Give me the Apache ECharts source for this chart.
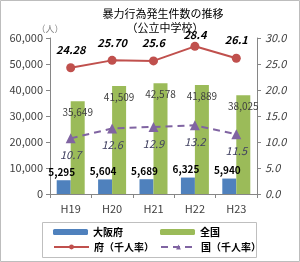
<!DOCTYPE html>
<html><head><meta charset="utf-8">
<script src="https://cdn.jsdelivr.net/npm/echarts@6/dist/echarts.min.js"></script>
<style>html,body{margin:0;padding:0;background:#fff}#c{width:300px;height:262px}</style>
</head><body><div id="c"></div>
<script>
const categories = ['H19','H20','H21','H22','H23'];
const osakaCounts = [5295, 5604, 5689, 6325, 5940];
const nationalCounts = [35649, 41509, 42578, 41889, 38025];
const osakaRate = [24.28, 25.70, 25.6, 28.4, 26.1];
const osakaRateLabels = ['24.28', '25.70', '25.6', '28.4', '26.1'];
const nationalRate = [10.7, 12.6, 12.9, 13.2, 11.5];
const leftTicks = [0, 10000, 20000, 30000, 40000, 50000, 60000];
const rightTicks = [0, 5, 10, 15, 20, 25, 30];

const FF = '"Noto Sans CJK JP", "Noto Sans", sans-serif';
const chart = echarts.init(document.getElementById('c'));
const legendCommon = {itemWidth: 35, itemHeight: 6, textStyle: {fontSize: 10, color: '#000', fontFamily: FF, fontWeight: 'bold'}, padding: 0};
const osakaRateData = osakaRate.map((v, i) => (i === 3 ? {value: v, label: {distance: 2}} : v));
chart.setOption({
  animation: false,
  textStyle: {fontFamily: FF},
  title: [
    {text: '暴力行為発生件数の推移', left: 158, top: 3, textAlign: 'center', textStyle: {fontSize: 11, fontWeight: 'normal', color: '#000', fontFamily: FF}},
    {text: '（公立中学校）', left: 160, top: 17, textAlign: 'center', textStyle: {fontSize: 11, fontWeight: 'normal', color: '#000', fontFamily: FF}}
  ],
  grid: {left: 50, right: 43, top: 38, bottom: 68, containLabel: false},
  graphic: [
    {type: 'rect', shape: {x: 0.5, y: 0.5, width: 299, height: 261}, style: {fill: 'none', stroke: '#bdbdbd', lineWidth: 1}, silent: true},
    {type: 'rect', shape: {x: 42.5, y: 222.5, width: 214, height: 35}, style: {fill: 'none', stroke: '#bfbfbf', lineWidth: 1}, silent: true}
  ],
  legend: [
    Object.assign({data: ['大阪府'], left: 53, top: 227}, legendCommon),
    Object.assign({data: ['全国'], left: 160, top: 227}, legendCommon),
    Object.assign({data: ['府（千人率）'], left: 53, top: 242}, legendCommon),
    Object.assign({data: ['国（千人率）'], left: 160, top: 242}, legendCommon)
  ],
  xAxis: {
    type: 'category', data: categories,
    axisLine: {lineStyle: {color: '#868686'}},
    axisTick: {show: true, length: 4, lineStyle: {color: '#868686'}},
    axisLabel: {fontSize: 11, color: '#404040', margin: 9, fontFamily: FF}
  },
  yAxis: [
    {type: 'value', min: 0, max: 60000, interval: 10000,
     name: '（人）', nameLocation: 'end', nameGap: 4, nameTextStyle: {fontSize: 9, color: '#808080', align: 'center', padding: [0, 0, 0, 0]},
     axisLine: {show: true, lineStyle: {color: '#868686'}},
     axisTick: {show: true, length: 4, lineStyle: {color: '#868686'}},
     splitLine: {show: false},
     axisLabel: {fontSize: 11, color: '#404040', margin: 7, fontFamily: FF,
       formatter: v => leftTicks.includes(v) ? v.toLocaleString('en-US') : ''}},
    {type: 'value', min: 0, max: 30, interval: 5, position: 'right',
     axisLine: {show: true, lineStyle: {color: '#868686'}},
     axisTick: {show: true, length: 4, lineStyle: {color: '#868686'}},
     splitLine: {show: false},
     axisLabel: {fontSize: 11, color: '#404040', margin: 8, fontStyle: 'italic', fontFamily: FF,
       formatter: v => rightTicks.includes(v) ? v.toFixed(1) : ''}}
  ],
  series: [
    {name: '大阪府', type: 'bar', data: osakaCounts, barWidth: 14, barGap: '0%',
     itemStyle: {color: '#4F81BD'},
     label: {show: true, position: 'top', distance: 3, fontSize: 10, fontWeight: 'bold', color: '#000', offset: [-2, 0],
       formatter: p => p.value.toLocaleString('en-US')}},
    {name: '全国', type: 'bar', data: nationalCounts, barWidth: 14,
     itemStyle: {color: '#9BBB59'},
     label: {show: true, position: 'insideTop', distance: 6, fontSize: 10, color: '#404040',
       formatter: p => p.value.toLocaleString('en-US')}},
    {name: '府（千人率）', type: 'line', yAxisIndex: 1, data: osakaRateData, symbol: 'circle', symbolSize: 9,
     lineStyle: {color: '#C0504D', width: 2}, itemStyle: {color: '#C0504D'},
     label: {show: true, position: 'top', distance: 8, fontSize: 11, fontWeight: 'bold', fontStyle: 'italic', color: '#000',
       formatter: p => osakaRateLabels[p.dataIndex]}},
    {name: '国（千人率）', type: 'line', yAxisIndex: 1, data: nationalRate, symbol: 'triangle', symbolSize: 10,
     lineStyle: {color: '#8064A2', width: 2, type: [7, 5]}, itemStyle: {color: '#8064A2'},
     label: {show: true, position: 'bottom', distance: 6, fontSize: 11, fontStyle: 'italic', color: '#404060',
       formatter: p => p.value.toFixed(1)}}
  ]
});
</script></body></html>
